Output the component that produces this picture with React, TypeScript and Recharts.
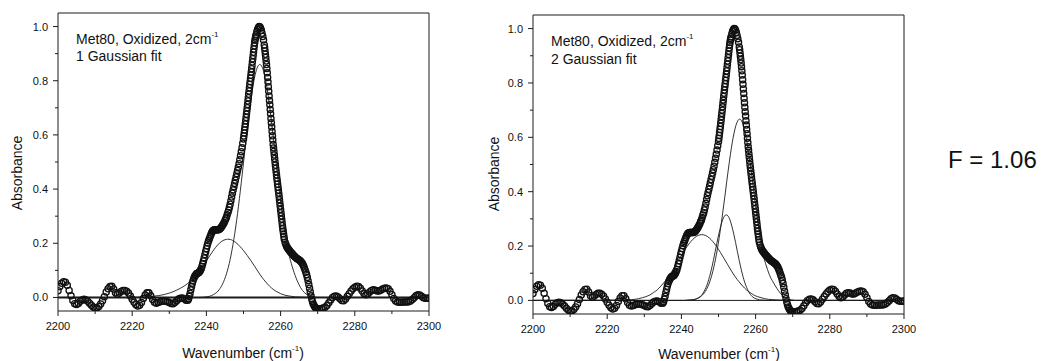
import React from "react";
import { LineChart, Line, XAxis, YAxis, ReferenceLine, ReferenceArea } from "recharts";

const FONT = '"Liberation Sans", Arial, Helvetica, sans-serif';
const INK = "#1c1c1c";

type Pt = [number, number];

const spectrumBase: Pt[] = [
  [2200, 0.025], [2200.5, 0.04], [2201, 0.052], [2201.5, 0.058], [2202, 0.056], [2202.5, 0.045],
  [2203, 0.026], [2203.5, 0.006], [2204, -0.011], [2204.5, -0.023], [2205, -0.026], [2205.5, -0.022],
  [2206, -0.014], [2206.5, -0.009], [2207, -0.007], [2207.5, -0.009], [2208, -0.014], [2208.5, -0.021],
  [2209, -0.029], [2209.5, -0.035], [2210, -0.039], [2210.5, -0.038], [2211, -0.033], [2211.5, -0.024],
  [2212, -0.012], [2212.5, 0.003], [2213, 0.02], [2213.5, 0.032], [2214, 0.04], [2214.5, 0.041],
  [2215, 0.031], [2215.5, 0.017], [2216, 0.012], [2216.5, 0.016], [2217, 0.022], [2217.5, 0.026],
  [2218, 0.026], [2218.5, 0.023], [2219, 0.016], [2219.5, 0.005], [2220, -0.007], [2220.5, -0.018],
  [2221, -0.027], [2221.5, -0.032], [2222, -0.029], [2222.5, -0.019], [2223, -0.004], [2223.5, 0.009],
  [2224, 0.017], [2224.5, 0.017], [2225, 0.006], [2225.5, -0.008], [2226, -0.018], [2226.5, -0.021],
  [2227, -0.019], [2227.5, -0.016], [2228, -0.014], [2228.5, -0.013], [2229, -0.014], [2229.5, -0.016],
  [2230, -0.019], [2230.5, -0.022], [2231, -0.023], [2231.5, -0.019], [2232, -0.012], [2232.5, -0.006],
  [2233, -0.003], [2233.5, -0.002], [2234, -0.005], [2234.5, -0.01], [2235, -0.01],
];

const spectrumRise: Pt[] = [
  [2235.2, -0.005], [2235.4, 0.004], [2235.6, 0.015], [2235.8, 0.028], [2236, 0.04], [2236.2, 0.052],
  [2236.4, 0.062], [2236.6, 0.07], [2236.8, 0.076], [2237, 0.081], [2237.2, 0.085], [2237.4, 0.088],
  [2237.6, 0.089], [2237.8, 0.09], [2238, 0.092], [2238.2, 0.096], [2238.4, 0.1], [2238.6, 0.106],
  [2238.8, 0.114], [2239, 0.124], [2239.2, 0.135], [2239.4, 0.146], [2239.6, 0.158], [2239.8, 0.169],
  [2240, 0.18], [2240.2, 0.191], [2240.4, 0.201], [2240.6, 0.209], [2240.8, 0.217], [2241, 0.224],
  [2241.2, 0.231], [2241.4, 0.238], [2241.6, 0.243], [2241.8, 0.247], [2242, 0.249], [2242.2, 0.25],
  [2242.4, 0.25], [2242.6, 0.25], [2242.8, 0.25], [2243, 0.25], [2243.2, 0.25], [2243.4, 0.251],
  [2243.6, 0.253], [2243.8, 0.255], [2244, 0.259], [2244.2, 0.263], [2244.4, 0.267], [2244.6, 0.272],
  [2244.8, 0.277], [2245, 0.283], [2245.2, 0.29], [2245.4, 0.296], [2245.6, 0.305], [2245.8, 0.314],
  [2246, 0.322], [2246.2, 0.333], [2246.4, 0.344], [2246.6, 0.357], [2246.8, 0.371], [2247, 0.385],
  [2247.2, 0.397], [2247.4, 0.409], [2247.6, 0.421], [2247.8, 0.433], [2248, 0.445], [2248.2, 0.457],
  [2248.4, 0.469], [2248.6, 0.481], [2248.8, 0.494], [2249, 0.508], [2249.2, 0.523], [2249.4, 0.538],
  [2249.6, 0.553], [2249.8, 0.569], [2250, 0.585],
];

const spectrumPeak: Pt[] = [
  [2250.1, 0.596], [2250.2, 0.607], [2250.3, 0.618], [2250.4, 0.629], [2250.5, 0.64], [2250.6, 0.652],
  [2250.7, 0.664], [2250.8, 0.676], [2250.9, 0.688], [2251, 0.7], [2251.1, 0.712], [2251.2, 0.725],
  [2251.3, 0.737], [2251.4, 0.75], [2251.5, 0.762], [2251.6, 0.774], [2251.7, 0.786], [2251.8, 0.797],
  [2251.9, 0.809], [2252, 0.82], [2252.1, 0.832], [2252.2, 0.844], [2252.3, 0.856], [2252.4, 0.869],
  [2252.5, 0.881], [2252.6, 0.893], [2252.7, 0.905], [2252.8, 0.917], [2252.9, 0.929], [2253, 0.94],
  [2253.1, 0.949], [2253.2, 0.957], [2253.3, 0.964], [2253.4, 0.97], [2253.6, 0.981], [2253.8, 0.99],
  [2254, 0.996], [2254.2, 1.0], [2254.4, 0.999], [2254.6, 0.994], [2254.8, 0.986], [2255, 0.975],
  [2255.2, 0.963], [2255.4, 0.95], [2255.6, 0.932], [2255.7, 0.922], [2255.8, 0.91], [2255.9, 0.898],
  [2256, 0.886], [2256.1, 0.873], [2256.2, 0.86], [2256.3, 0.845], [2256.4, 0.829], [2256.5, 0.812],
  [2256.6, 0.795], [2256.7, 0.778], [2256.8, 0.761], [2256.9, 0.744], [2257, 0.727], [2257.1, 0.711],
  [2257.2, 0.694], [2257.3, 0.678], [2257.4, 0.661], [2257.5, 0.645], [2257.6, 0.629], [2257.7, 0.613],
  [2257.8, 0.597], [2257.9, 0.581], [2258, 0.565], [2258.1, 0.552], [2258.2, 0.539], [2258.3, 0.526],
  [2258.4, 0.513], [2258.5, 0.5], [2258.6, 0.488], [2258.7, 0.476], [2258.8, 0.464], [2258.9, 0.452],
  [2259, 0.44], [2259.1, 0.429], [2259.2, 0.418], [2259.3, 0.407], [2259.4, 0.396], [2259.5, 0.385],
  [2259.6, 0.373], [2259.7, 0.361], [2259.8, 0.349], [2259.9, 0.337], [2260, 0.325], [2260.1, 0.313],
  [2260.2, 0.301], [2260.3, 0.289], [2260.4, 0.277], [2260.5, 0.265], [2260.6, 0.254], [2260.7, 0.244],
  [2260.8, 0.234], [2260.9, 0.224], [2261, 0.215],
];

const spectrumFall: Pt[] = [
  [2261.2, 0.204], [2261.4, 0.196], [2261.6, 0.189], [2261.8, 0.184], [2262, 0.18], [2262.2, 0.176],
  [2262.4, 0.173], [2262.6, 0.169], [2262.8, 0.166], [2263, 0.163], [2263.2, 0.16], [2263.4, 0.157],
  [2263.6, 0.154], [2263.8, 0.151], [2264, 0.148], [2264.2, 0.146], [2264.4, 0.144], [2264.6, 0.142],
  [2264.8, 0.14], [2265, 0.138], [2265.2, 0.136], [2265.4, 0.134], [2265.6, 0.13], [2265.8, 0.127],
  [2266, 0.122], [2266.2, 0.116], [2266.4, 0.109], [2266.6, 0.101], [2266.8, 0.093], [2267, 0.085],
  [2267.2, 0.074], [2267.4, 0.062], [2267.6, 0.048], [2267.8, 0.034], [2268, 0.02], [2268.2, 0.006],
  [2268.4, -0.006], [2268.6, -0.016], [2268.8, -0.024], [2269, -0.03], [2269.2, -0.034], [2269.4, -0.038],
  [2269.6, -0.04], [2269.8, -0.042], [2270, -0.043],
];

const spectrumTail: Pt[] = [
  [2270.5, -0.043], [2271, -0.041], [2271.5, -0.039], [2272, -0.036], [2272.5, -0.03], [2273, -0.02],
  [2273.5, -0.009], [2274, 0.0], [2274.5, 0.004], [2275, 0.005], [2275.5, 0.002], [2276, -0.005],
  [2276.5, -0.011], [2277, -0.012], [2277.5, -0.006], [2278, 0.004], [2278.5, 0.014], [2279, 0.024],
  [2279.5, 0.032], [2280, 0.038], [2280.5, 0.041], [2281, 0.04], [2281.5, 0.034], [2282, 0.024],
  [2282.5, 0.014], [2283, 0.01], [2283.5, 0.013], [2284, 0.02], [2284.5, 0.026], [2285, 0.028],
  [2285.5, 0.027], [2286, 0.024], [2286.5, 0.024], [2287, 0.027], [2287.5, 0.031], [2288, 0.034],
  [2288.5, 0.035], [2289, 0.032], [2289.5, 0.023], [2290, 0.01], [2290.5, -0.004], [2291, -0.013],
  [2291.5, -0.017], [2292, -0.018], [2292.5, -0.018], [2293, -0.017], [2293.5, -0.017], [2294, -0.017],
  [2294.5, -0.016], [2295, -0.013], [2295.5, -0.008], [2296, -0.001], [2296.5, 0.006], [2297, 0.01],
  [2297.5, 0.009], [2298, 0.004], [2298.5, -0.001], [2299, -0.003], [2299.5, -0.003], [2300, -0.002],
];

// fit components, "1 Gaussian fit" panel
const fit1Shoulder: Pt[] = [
  [2200, 0], [2220, 0], [2222, 0.001], [2224, 0.002], [2226, 0.005], [2228, 0.009], [2230, 0.016],
  [2232, 0.027], [2234, 0.042], [2236, 0.064], [2237, 0.078], [2238, 0.095], [2239, 0.114], [2240, 0.135],
  [2241, 0.156], [2242, 0.176], [2243, 0.193], [2244, 0.206], [2245, 0.213], [2245.7, 0.215], [2246.5, 0.214],
  [2247, 0.211], [2248, 0.202], [2249, 0.189], [2250, 0.173], [2251, 0.155], [2252, 0.136], [2253, 0.115],
  [2254, 0.094], [2255, 0.074], [2256, 0.057], [2257, 0.042], [2258, 0.03], [2259, 0.021], [2260, 0.014],
  [2261, 0.009], [2262, 0.006], [2263, 0.004], [2264, 0.002], [2266, 0.001], [2268, 0], [2300, 0],
];

const fit1Main: Pt[] = [
  [2200, 0], [2238.4, 0], [2239.4, 0.001], [2240.4, 0.003], [2241.4, 0.007], [2242.4, 0.015], [2242.9, 0.02],
  [2243.4, 0.028], [2243.9, 0.038], [2244.4, 0.051], [2244.9, 0.067], [2245.4, 0.087], [2245.9, 0.111],
  [2246.4, 0.14], [2246.9, 0.175], [2247.4, 0.215], [2247.9, 0.26], [2248.4, 0.31], [2248.9, 0.365],
  [2249.4, 0.424], [2249.9, 0.485], [2250.4, 0.547], [2250.9, 0.608], [2251.4, 0.666], [2251.9, 0.72],
  [2252.4, 0.768], [2252.9, 0.807], [2253.4, 0.836], [2253.9, 0.854], [2254.4, 0.86], [2254.9, 0.854],
  [2255.4, 0.836], [2255.9, 0.807], [2256.4, 0.768], [2256.9, 0.72], [2257.4, 0.666], [2257.9, 0.608],
  [2258.4, 0.547], [2258.9, 0.485], [2259.4, 0.424], [2259.9, 0.365], [2260.4, 0.312], [2260.9, 0.262],
  [2261.4, 0.218], [2261.9, 0.18], [2262.4, 0.15], [2262.9, 0.125], [2263.4, 0.102], [2263.9, 0.082],
  [2264.4, 0.064], [2264.9, 0.049], [2265.4, 0.036], [2265.9, 0.026], [2266.4, 0.018], [2267.4, 0.008],
  [2268.4, 0.003], [2269.4, 0.001], [2270.4, 0], [2300, 0],
];

// fit components, "2 Gaussian fit" panel
const fit2Shoulder: Pt[] = [
  [2200, 0], [2222, 0.001], [2225.5, 0.002], [2227.5, 0.004], [2229.5, 0.01], [2231.5, 0.02], [2232.5, 0.029],
  [2233.5, 0.039], [2234.5, 0.053], [2235.5, 0.069], [2236.5, 0.087], [2237.5, 0.108], [2238.5, 0.131],
  [2239.5, 0.154], [2240.5, 0.177], [2241.5, 0.198], [2242.5, 0.216], [2243.5, 0.23], [2244.5, 0.239],
  [2245.5, 0.242], [2246.5, 0.239], [2247.5, 0.23], [2248.5, 0.216], [2249.5, 0.198], [2250.5, 0.177],
  [2251.5, 0.154], [2252.5, 0.131], [2253.5, 0.108], [2254.5, 0.087], [2255.5, 0.069], [2256.5, 0.053],
  [2257.5, 0.039], [2258.5, 0.029], [2259.5, 0.02], [2260.5, 0.014], [2261.5, 0.01], [2262.5, 0.006],
  [2263.5, 0.004], [2264.5, 0.003], [2265.5, 0.002], [2267.5, 0.001], [2270, 0], [2300, 0],
];

const fit2Middle: Pt[] = [
  [2200, 0], [2241, 0], [2242.1, 0.001], [2243.1, 0.002], [2244.1, 0.006], [2245.1, 0.014], [2245.6, 0.022],
  [2246.1, 0.033], [2246.6, 0.047], [2247.1, 0.065], [2247.6, 0.088], [2248.1, 0.115], [2248.6, 0.146],
  [2249.1, 0.179], [2249.6, 0.213], [2250.1, 0.245], [2250.6, 0.273], [2251.1, 0.296], [2251.6, 0.31],
  [2252.1, 0.315], [2252.6, 0.31], [2253.1, 0.296], [2253.6, 0.273], [2254.1, 0.245], [2254.6, 0.213],
  [2255.1, 0.179], [2255.6, 0.146], [2256.1, 0.115], [2256.6, 0.088], [2257.1, 0.065], [2257.6, 0.047],
  [2258.1, 0.033], [2258.6, 0.022], [2259.1, 0.014], [2260.1, 0.006], [2261.1, 0.002], [2262.1, 0.001],
  [2263, 0], [2300, 0],
];

const fit2Main: Pt[] = [
  [2200, 0], [2240.7, 0], [2241.7, 0.001], [2242.7, 0.002], [2243.7, 0.004], [2244.7, 0.01], [2245.7, 0.02],
  [2246.2, 0.028], [2246.7, 0.039], [2247.2, 0.053], [2247.7, 0.071], [2248.2, 0.093], [2248.7, 0.12],
  [2249.2, 0.152], [2249.7, 0.189], [2250.2, 0.232], [2250.7, 0.278], [2251.2, 0.329], [2251.7, 0.381],
  [2252.2, 0.435], [2252.7, 0.487], [2253.2, 0.536], [2253.7, 0.58], [2254.2, 0.616], [2254.7, 0.644],
  [2255.2, 0.661], [2255.7, 0.667], [2256.2, 0.661], [2256.7, 0.644], [2257.2, 0.616], [2257.7, 0.58],
  [2258.2, 0.536], [2258.7, 0.487], [2259.2, 0.435], [2259.7, 0.381], [2260.2, 0.329], [2260.7, 0.278],
  [2261.2, 0.232], [2261.7, 0.189], [2262.2, 0.158], [2262.7, 0.135], [2263.2, 0.114], [2263.7, 0.095],
  [2264.2, 0.08], [2264.7, 0.068], [2265.2, 0.056], [2265.7, 0.045], [2266.2, 0.035], [2266.7, 0.026],
  [2267.7, 0.013], [2268.7, 0.005], [2269.7, 0.002], [2270.7, 0], [2300, 0],
];

const X_TICKS = [2200, 2210, 2220, 2230, 2240, 2250, 2260, 2270, 2280, 2290, 2300];
const Y_TICKS = [0, 0.1, 0.2, 0.3, 0.4, 0.5, 0.6, 0.7, 0.8, 0.9, 1.0];

const rows = (pts: Pt[]) => pts.map(([x, a]) => ({ x, a }));

const SPECTRUM = rows([
  ...spectrumBase,
  ...spectrumRise,
  ...spectrumPeak,
  ...spectrumFall,
  ...spectrumTail,
]);

const W = 460;
const H = 361;
const YW = 40;
const XH = 30;

const XTick = ({ x, payload, axisY }: any) => {
  const v = payload.value;
  const major = v % 20 === 0;
  return (
    <g>
      <line x1={x} x2={x} y1={axisY} y2={axisY + (major ? 5 : 3)} stroke={INK} strokeWidth={1} />
      {major && (
        <text x={x} y={axisY + 19} textAnchor="middle" fontSize={11} fontFamily={FONT} fill="#111">
          {v}
        </text>
      )}
    </g>
  );
};

const YTick = ({ y, payload, axisX }: any) => {
  const v = payload.value;
  const major = Math.round(v * 10) % 2 === 0;
  return (
    <g>
      <line x1={axisX - (major ? 5 : 3)} x2={axisX} y1={y} y2={y} stroke={INK} strokeWidth={1} />
      {major && (
        <text x={axisX - 10} y={y} dy="0.36em" textAnchor="end" fontSize={11} fontFamily={FONT} fill="#111">
          {v.toFixed(1)}
        </text>
      )}
    </g>
  );
};

type PanelProps = {
  ox: number;
  plot: { left: number; right: number; top: number; bottom: number };
  fits: Pt[][];
  baseWidth: number;
};

const Panel = ({ ox, plot, fits, baseWidth }: PanelProps) => {
  const axisX = plot.left - ox;
  const margin = {
    top: plot.top,
    right: W - (plot.right - ox),
    bottom: H - plot.bottom - XH,
    left: axisX - YW,
  };
  return (
    <div style={{ position: "absolute", left: ox, top: 0 }}>
      <LineChart width={W} height={H} margin={margin}>
        <XAxis
          type="number"
          dataKey="x"
          domain={[2200, 2300]}
          ticks={X_TICKS}
          interval={0}
          allowDataOverflow
          axisLine={false}
          tickLine={false}
          height={XH}
          tick={(p: any) => <XTick {...p} axisY={plot.bottom} />}
        />
        <YAxis
          type="number"
          domain={[-0.05, 1.05]}
          ticks={Y_TICKS}
          interval={0}
          allowDataOverflow
          axisLine={false}
          tickLine={false}
          width={YW}
          tick={(p: any) => <YTick {...p} axisX={axisX} />}
        />
        <ReferenceArea x1={2200} x2={2300} y1={-0.05} y2={1.05} fill="none" stroke={INK} strokeWidth={1} />
        <Line
          data={SPECTRUM}
          dataKey="a"
          stroke="none"
          isAnimationActive={false}
          activeDot={false}
          dot={{ r: 3.1, fill: "none", stroke: "#111", strokeWidth: 1.3 }}
        />
        {fits.map((f, i) => (
          <Line
            key={i}
            data={rows(f)}
            dataKey="a"
            type="monotone"
            stroke={INK}
            strokeWidth={0.9}
            dot={false}
            activeDot={false}
            isAnimationActive={false}
          />
        ))}
        <ReferenceLine y={0} stroke={INK} strokeWidth={baseWidth} />
      </LineChart>
    </div>
  );
};

const text14: React.CSSProperties = {
  position: "absolute",
  fontFamily: FONT,
  fontSize: 14,
  color: "#111",
  whiteSpace: "nowrap",
};

const sup: React.CSSProperties = { fontSize: 8, position: "relative", top: -7, lineHeight: 0 };

const Note = ({ left, top, fitName }: { left: number; top: number; fitName: string }) => (
  <div style={{ ...text14, left, top, lineHeight: "17.4px" }}>
    <div>
      Met80, Oxidized, 2cm<span style={sup}>-1</span>
    </div>
    <div>{fitName}</div>
  </div>
);

const XTitle = ({ cx, top }: { cx: number; top: number }) => (
  <div style={{ ...text14, left: cx - 150, top, width: 300, textAlign: "center", lineHeight: "14px" }}>
    Wavenumber (cm<span style={sup}>-1</span>)
  </div>
);

const YTitle = ({ cx, cy }: { cx: number; cy: number }) => (
  <div
    style={{
      ...text14,
      left: cx - 60,
      top: cy - 8,
      width: 120,
      height: 16,
      lineHeight: "16px",
      textAlign: "center",
      transform: "rotate(-90deg)",
    }}
  >
    Absorbance
  </div>
);

export default function App() {
  return (
    <div style={{ position: "absolute", left: 0, top: 0, width: 1054, height: 361, background: "#fff", overflow: "hidden" }}>
      <Panel ox={0} plot={{ left: 58, right: 429, top: 13, bottom: 311 }} fits={[fit1Shoulder, fit1Main]} baseWidth={2} />
      <Panel
        ox={480}
        plot={{ left: 533, right: 904, top: 15, bottom: 314 }}
        fits={[fit2Shoulder, fit2Middle, fit2Main]}
        baseWidth={1}
      />
      <Note left={76} top={30.8} fitName="1 Gaussian fit" />
      <Note left={551} top={33.2} fitName="2 Gaussian fit" />
      <XTitle cx={243} top={346.2} />
      <XTitle cx={719} top={346.5} />
      <YTitle cx={16.9} cy={172.5} />
      <YTitle cx={493.5} cy={174} />
      <div style={{ position: "absolute", left: 948, top: 148, fontFamily: FONT, fontSize: 24, lineHeight: "24px", color: "#111", whiteSpace: "nowrap" }}>
        F = 1.06
      </div>
    </div>
  );
}
